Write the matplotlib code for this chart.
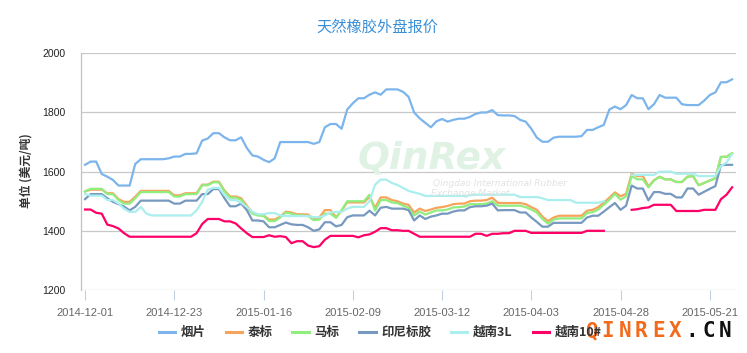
import numpy as np
import matplotlib
matplotlib.use('Agg')
import matplotlib.pyplot as plt
from matplotlib.lines import Line2D

CJK = ['Noto Sans CJK SC', 'DejaVu Sans']
NUM = ['Liberation Sans', 'DejaVu Sans']

# trading days, one tick label every 16 points
tick_step = 16
tick_labels = ['2014-12-01', '2014-12-23', '2015-01-16', '2015-02-09',
               '2015-03-12', '2015-04-03', '2015-04-28', '2015-05-21']

series_names = ['烟片', '泰标', '马标', '印尼标胶', '越南3L', '越南10#']

rss = [1623, 1634, 1634, 1592, 1583, 1572, 1553, 1553, 1553, 1626,
       1642, 1642, 1642, 1642, 1642, 1645, 1651, 1651, 1660, 1660,
       1662, 1705, 1712, 1730, 1730, 1716, 1706, 1706, 1716, 1680,
       1655, 1651, 1640, 1632, 1645, 1700, 1700, 1700, 1700, 1700,
       1700, 1694, 1700, 1750, 1761, 1761, 1745, 1810, 1831, 1848,
       1848, 1860, 1868, 1860, 1878, 1878, 1878, 1870, 1853, 1800,
       1780, 1765, 1750, 1770, 1778, 1769, 1775, 1779, 1779, 1785,
       1795, 1800, 1800, 1808, 1791, 1790, 1790, 1788, 1775, 1769,
       1745, 1715, 1701, 1701, 1715, 1718, 1718, 1718, 1718, 1720,
       1741, 1741, 1750, 1758, 1810, 1820, 1811, 1825, 1859, 1848,
       1848, 1811, 1828, 1859, 1850, 1850, 1850, 1828, 1825, 1825,
       1825, 1840, 1859, 1868, 1902, 1902, 1912]

thai = [1533, 1539, 1539, 1539, 1527, 1527, 1507, 1498, 1498, 1515,
        1535, 1535, 1535, 1535, 1535, 1535, 1520, 1520, 1527, 1527,
        1527, 1556, 1556, 1566, 1566, 1536, 1516, 1516, 1510, 1485,
        1462, 1455, 1452, 1438, 1438, 1448, 1465, 1462, 1456, 1456,
        1455, 1440, 1445, 1470, 1470, 1446, 1468, 1496, 1496, 1496,
        1496, 1515, 1478, 1513, 1513, 1504, 1500, 1492, 1488, 1462,
        1475, 1467, 1472, 1478, 1480, 1484, 1490, 1492, 1492, 1500,
        1502, 1502, 1504, 1512, 1495, 1494, 1494, 1494, 1494, 1490,
        1480, 1471, 1448, 1433, 1445, 1451, 1451, 1451, 1451, 1451,
        1468, 1471, 1480, 1495, 1512, 1530, 1517, 1525, 1593, 1585,
        1585, 1550, 1571, 1583, 1574, 1574, 1565, 1565, 1583, 1585,
        1554, 1562, 1570, 1578, 1650, 1650, 1662]

malay = [1533, 1542, 1542, 1542, 1524, 1524, 1504, 1492, 1492, 1510,
         1531, 1531, 1531, 1531, 1531, 1531, 1516, 1516, 1524, 1524,
         1524, 1554, 1554, 1564, 1564, 1533, 1512, 1512, 1505, 1478,
         1458, 1452, 1450, 1433, 1433, 1445, 1462, 1458, 1452, 1452,
         1450, 1436, 1438, 1458, 1458, 1444, 1470, 1500, 1500, 1500,
         1500, 1522, 1468, 1504, 1504, 1496, 1494, 1485, 1478, 1452,
         1465, 1455, 1462, 1469, 1469, 1472, 1479, 1480, 1482, 1490,
         1490, 1490, 1492, 1500, 1485, 1485, 1485, 1485, 1485, 1480,
         1472, 1462, 1440, 1424, 1438, 1442, 1442, 1442, 1442, 1442,
         1460, 1463, 1472, 1488, 1505, 1525, 1505, 1517, 1585, 1574,
         1574, 1547, 1570, 1582, 1574, 1574, 1565, 1565, 1583, 1585,
         1554, 1562, 1570, 1578, 1650, 1650, 1662]

indo = [1507, 1524, 1524, 1524, 1510, 1498, 1490, 1482, 1469, 1481,
        1502, 1502, 1502, 1502, 1502, 1502, 1492, 1492, 1502, 1502,
        1502, 1524, 1524, 1541, 1541, 1510, 1483, 1483, 1492, 1470,
        1435, 1435, 1432, 1412, 1412, 1420, 1428, 1422, 1420, 1420,
        1412, 1400, 1405, 1429, 1429, 1415, 1420, 1446, 1452, 1452,
        1452, 1468, 1452, 1478, 1481, 1475, 1475, 1475, 1470, 1435,
        1452, 1440, 1448, 1452, 1458, 1458, 1465, 1469, 1469, 1480,
        1483, 1483, 1485, 1492, 1469, 1470, 1470, 1470, 1462, 1462,
        1445, 1430, 1414, 1414, 1427, 1427, 1427, 1427, 1427, 1427,
        1445, 1451, 1451, 1465, 1480, 1494, 1471, 1485, 1553, 1543,
        1543, 1503, 1531, 1531, 1525, 1525, 1513, 1513, 1543, 1543,
        1522, 1532, 1542, 1551, 1622, 1623, 1623]

vn3l = [1524, 1519, 1519, 1519, 1504, 1504, 1492, 1475, 1464, 1464,
        1481, 1458, 1452, 1452, 1452, 1452, 1452, 1452, 1452, 1452,
        1469, 1498, 1539, 1545, 1545, 1521, 1504, 1504, 1495, 1481,
        1464, 1456, 1456, 1460, 1460, 1452, 1450, 1450, 1450, 1450,
        1450, 1446, 1446, 1452, 1462, 1464, 1464, 1475, 1481, 1481,
        1481, 1500, 1556, 1573, 1573, 1562, 1555, 1545, 1535, 1530,
        1525, 1518, 1518, 1518, 1518, 1518, 1518, 1518, 1518, 1520,
        1522, 1522, 1522, 1522, 1522, 1522, 1522, 1522, 1514, 1514,
        1514, 1514, 1510, 1504, 1504, 1504, 1504, 1504, 1495, 1495,
        1495, 1495, 1495, 1500, None, None, None, None, 1589, 1589,
        1589, 1589, 1589, 1600, 1600, 1600, 1593, 1593, 1593, 1593,
        1585, 1585, 1585, 1585, 1619, 1631, 1659]

vn10 = [1472, 1472, 1461, 1458, 1421, 1416, 1408, 1392, 1380, 1380,
        1380, 1380, 1380, 1380, 1380, 1380, 1380, 1380, 1380, 1380,
        1392, 1423, 1440, 1440, 1440, 1432, 1432, 1425, 1408, 1392,
        1379, 1379, 1379, 1385, 1380, 1382, 1379, 1358, 1365, 1365,
        1350, 1345, 1348, 1370, 1383, 1383, 1383, 1383, 1383, 1378,
        1385, 1388, 1397, 1409, 1409, 1402, 1402, 1400, 1400, 1390,
        1380, 1380, 1380, 1380, 1380, 1380, 1380, 1380, 1380, 1380,
        1390, 1390, 1383, 1390, 1390, 1392, 1392, 1400, 1400, 1400,
        1393, 1393, 1393, 1393, 1393, 1393, 1393, 1393, 1393, 1393,
        1400, 1400, 1400, 1400, None, None, None, None, 1471, 1473,
        1477, 1479, 1488, 1488, 1488, 1488, 1467, 1467, 1467, 1467,
        1467, 1471, 1471, 1471, 1507, 1522, 1547]

colors = ['#7cb5ec', '#f7a35c', '#90ee7e', '#7798bf', '#aaeeee', '#ff0066']
all_series = [rss, thai, malay, indo, vn3l, vn10]

W, H = 747, 353
fig = plt.figure(figsize=(W / 100, H / 100), dpi=100)
ax = fig.add_axes([81 / W, 1 - 290 / H, (736 - 81) / W, (290 - 53.3) / H])

x = np.arange(len(rss))
for name, vals, c in zip(series_names, all_series, colors):
    y = np.array([np.nan if v is None else v for v in vals], dtype=float)
    ax.plot(x, y, color=c, lw=1.6, solid_joinstyle='round', label=name, zorder=3)

ax.set_xlim(-0.72, 116.7)
ax.set_ylim(1200, 2000)
ax.set_yticks(range(1200, 2001, 200))
ax.set_yticklabels([str(v) for v in range(1200, 2001, 200)], family=NUM, fontsize=7.5, color='#222222')
ticks = list(range(0, len(rss), tick_step))[:len(tick_labels)]
ax.set_xticks(ticks)
ax.set_xticklabels(tick_labels, family=NUM, fontsize=8, color='#666666')
ax.tick_params(axis='y', length=0, pad=11)
ax.tick_params(axis='x', length=7, width=0.8, color='#c0d0e0', pad=6)
ax.grid(axis='y', color='#c8c8c8', lw=0.9)
ax.set_axisbelow(True)
for s in ['top', 'right', 'bottom']:
    ax.spines[s].set_visible(False)
ax.spines['left'].set_color('#c0c0c0')
ax.spines['left'].set_linewidth(0.9)

fig.text(377 / W, 1 - 27 / H, '天然橡胶外盘报价', family=CJK, fontsize=11,
         color='#3a8fd6', ha='center', va='center')
fig.text(26 / W, 1 - 171 / H, '单位 (美元/吨)', family=CJK, fontsize=8.5,
         fontweight='bold', color='#333333', rotation=90, ha='center', va='center')

# faint centre watermark
fig.text(432 / W, 1 - 158 / H, 'QinRex', fontsize=27, fontweight='bold', style='italic',
         color='#dff2e4', ha='center', va='center', zorder=1)
fig.text(500 / W, 1 - 184 / H, 'Qingdao International Rubber', fontsize=6.5, style='italic',
         color='#e2e2e2', ha='center', va='center', zorder=1)
fig.text(470 / W, 1 - 193 / H, 'Exchange Market', fontsize=6.5, style='italic',
         color='#e2e2e2', ha='center', va='center', zorder=1)

handles = [Line2D([], [], color=c, lw=2.2) for c in colors]
leg = fig.legend(handles, series_names, loc='center', ncol=6,
                 bbox_to_anchor=(380 / W, 1 - 332.7 / H), frameon=False,
                 prop={'family': CJK, 'size': 9, 'weight': 'bold'},
                 handlelength=1.3, handletextpad=0.45, columnspacing=1.6)
for t in leg.get_texts():
    t.set_color('#333333')

# QINREX.CN corner mark
mark = 'QINREX.CN'
for k, ch in enumerate(mark):
    fig.text((591 + 16.8 * k) / W, 1 - 331 / H, ch, family='DejaVu Sans Mono',
             fontsize=15, fontweight='bold', color='#f26a1b' if k < 6 else '#111111',
             ha='center', va='center', zorder=5)

fig.savefig('out.png', dpi=100)
